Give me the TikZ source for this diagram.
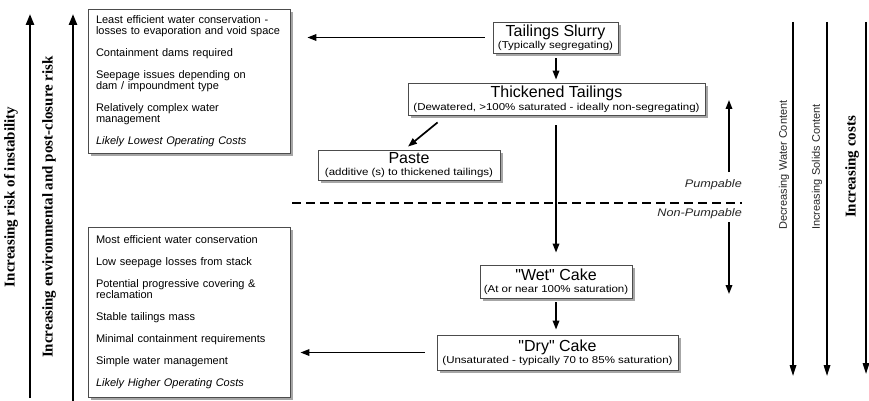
\documentclass[tikz,border=0pt]{standalone}
\usepackage{fontspec}
\setmainfont{Liberation Sans}
\newfontfamily\labelserif{Liberation Serif}
\newfontfamily\widesans[FakeStretch=1.15]{Liberation Sans}
\newfontfamily\titlesans[Ligatures=TeXOff]{Liberation Sans}
\usetikzlibrary{arrows.meta,shadows,calc}

\tikzset{
  box/.style={draw=black!70, line width=0.8pt, fill=white, inner sep=0pt,
    general shadow={fill=black!35, shadow xshift=3pt, shadow yshift=-3pt}},
  infobox/.style={box, text width=186pt, inner xsep=8pt, inner ysep=0pt,
    minimum width=202pt, align=left, font=\fontsize{11}{11}\selectfont},
  stagebox/.style={box, align=center, font=\fontsize{10}{12.5}\selectfont},
  arr/.style={line width=1.7pt, -{Triangle[length=9pt,width=6.5pt]}},
  axisarr/.style={line width=2.4pt, -{Triangle[length=11pt,width=8pt]}},
  trendarr/.style={line width=1.6pt, -{Triangle[length=11pt,width=6.5pt]}},
  seriflabel/.style={rotate=90, inner sep=0pt,
    font=\labelserif\bfseries\fontsize{15}{15}\selectfont},
  sanslabel/.style={rotate=90, inner sep=0pt, text=black!85,
    font=\fontsize{11}{11}\selectfont},
  pumplabel/.style={anchor=east, inner sep=0pt, text=black!85,
    font=\widesans\itshape\fontsize{11}{11}\selectfont}
}
\newcommand{\stagetitle}[1]{{\titlesans\fontsize{16}{16}\selectfont #1}}
\newcommand{\stagenote}[1]{{\widesans\fontsize{10}{10}\selectfont #1}}

\begin{document}
\begin{tikzpicture}[x=1pt,y=-1pt]
\useasboundingbox (0,0) rectangle (869,401);

% ---- left axes: instability and environmental risk ----
\coordinate (riskS) at (30,398);
\coordinate (riskE) at (30,14);
\coordinate (envS) at (73,401);
\coordinate (envE) at (73,14);
\draw[axisarr] (riskS) -- (riskE);
\draw[axisarr] (envS) -- (envE);
\node[seriflabel] (riskLbl) at (11,197) {Increasing risk of instability};
\node[seriflabel] (envLbl) at (49,207) {Increasing environmental and post-closure risk};

% ---- characteristics of conventional / thickened deposition ----
\node[infobox, minimum height=144pt] (topbox) at (189,81) {%
  Least efficient water conservation -\\
  losses to evaporation and void space\\[11pt]
  Containment dams required\\[11pt]
  Seepage issues depending on\\
  dam / impoundment type\\[11pt]
  Relatively complex water\\
  management\\[11pt]
  \textit{Likely Lowest Operating Costs}};

% ---- characteristics of filtered cake deposition ----
\node[infobox, minimum height=170pt] (botbox) at (189,312) {%
  Most efficient water conservation\\[11pt]
  Low seepage losses from stack\\[11pt]
  Potential progressive covering \&\\
  reclamation\\[11pt]
  Stable tailings mass\\[11pt]
  Minimal containment requirements\\[11pt]
  Simple water management\\[11pt]
  \textit{Likely Higher Operating Costs}};

% ---- tailings stages ----
\node[stagebox, minimum width=125pt, minimum height=31pt] (slurry) at (555.5,37.5)
  {\stagetitle{Tailings Slurry}\\\stagenote{(Typically segregating)}};
\node[stagebox, minimum width=297pt, minimum height=32pt] (thick) at (556.5,99)
  {\stagetitle{Thickened Tailings}\\\stagenote{(Dewatered, >100\% saturated - ideally non-segregating)}};
\node[stagebox, minimum width=182pt, minimum height=30pt] (paste) at (409,165)
  {\stagetitle{Paste}\\\stagenote{(additive (s) to thickened tailings)}};
\node[stagebox, minimum width=152pt, minimum height=33pt] (wet) at (556,281.5)
  {\stagetitle{"Wet" Cake}\\\stagenote{(At or near 100\% saturation)}};
\node[stagebox, minimum width=241pt, minimum height=35pt] (dry) at (557.5,352.5)
  {\stagetitle{"Dry" Cake}\\\stagenote{(Unsaturated - typically 70 to 85\% saturation)}};

% ---- flow between stages ----
\draw[arr, shorten <=8pt, shorten >=17pt] (slurry.west) -- (slurry.west -| topbox.east);
\draw[arr, shorten <=5pt, shorten >=3pt] (slurry.south -| wet.north) -- (thick.north -| wet.north);
\draw[arr] ($(thick.south west)+(30,7)$) -- ($(paste.north)+(-1,-3)$);
\draw[arr, shorten <=10pt, shorten >=12pt] (thick.south -| wet.north) -- (wet.north);
\draw[arr, shorten <=4pt, shorten >=5pt] (wet.south) -- (wet.south |- dry.north);
\draw[arr, shorten <=12pt, shorten >=10pt] (dry.west) -- (dry.west -| botbox.east);

% ---- pumpable / non-pumpable boundary ----
\coordinate (dashL) at (292,203);
\coordinate (dashR) at (742,203);
\draw[line width=1.7pt, dash pattern=on 9pt off 5pt] (dashL) -- (dashR);
\node[pumplabel] (pumpLbl) at (742,185) {Pumpable};
\node[pumplabel] (nonpumpLbl) at (742,214) {Non-Pumpable};
\coordinate (pumpS) at (729,172);
\coordinate (pumpE) at (729,100);
\coordinate (nonS) at (729,222);
\coordinate (nonE) at (729,294);
\draw[arr] (pumpS) -- (pumpE);
\draw[arr] (nonS) -- (nonE);

% ---- right trends ----
\coordinate (waterS) at (793,22);
\coordinate (waterE) at (793,376);
\coordinate (solidS) at (827,22);
\coordinate (solidE) at (827,376);
\coordinate (costS) at (866,22);
\coordinate (costE) at (866,374);
\draw[trendarr] (waterS) -- (waterE);
\draw[trendarr] (solidS) -- (solidE);
\draw[trendarr] (costS) -- (costE);
\node[sanslabel] (waterLbl) at (784,165) {Decreasing Water Content};
\node[sanslabel] (solidLbl) at (817,167) {Increasing Solids Content};
\node[seriflabel] (costLbl) at (852,167) {Increasing costs};
\end{tikzpicture}
\end{document}
